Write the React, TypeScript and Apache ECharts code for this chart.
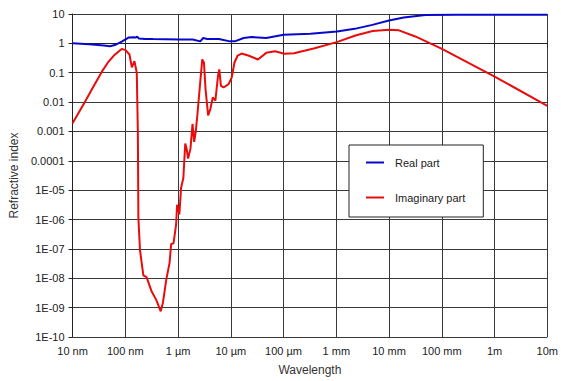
import React, { useEffect, useRef } from 'react';
import * as echarts from 'echarts';

const xTickLabels = ['10 nm', '100 nm', '1 µm', '10 µm', '100 µm', '1 mm', '10 mm', '100 mm', '1m', '10m'];
const yTickLabels = ['1E-10', '1E-09', '1E-08', '1E-07', '1E-06', '1E-05', '0.0001', '0.001', '0.01', '0.1', '1', '10'];

const seriesNames = ['Real part', 'Imaginary part'];

// wavelength in metres
const realWavelength = [
  1e-8, 2.07e-8, 3.94e-8, 5.1e-8, 6.6e-8, 8.55e-8, 1.15e-7, 1.45e-7, 1.6e-7, 1.68e-7, 1.8e-7, 2.39e-7,
  3.37e-7, 1.03e-6, 1.9e-6, 2.64e-6, 3.0e-6, 3.57e-6, 5.97e-6, 9.6e-6, 1.19e-5, 1.75e-5, 2.46e-5,
  4.69e-5, 1.01e-4, 3.23e-4, 1.03e-3, 2.23e-3, 4.82e-3, 1e-2, 1.9e-2, 4.89e-2, 0.2, 10,
];
const realValues = [
  1.0, 0.94, 0.84, 0.8, 0.9, 1.14, 1.58, 1.6, 1.58, 1.7, 1.47, 1.42,
  1.4, 1.36, 1.35, 1.17, 1.52, 1.41, 1.41, 1.17, 1.17, 1.52, 1.64,
  1.52, 1.96, 2.12, 2.53, 3.12, 4.27, 6.0, 7.6, 9.25, 9.4, 9.4,
];

const imagWavelength = [
  1e-8, 1.67e-8, 2.57e-8, 3.62e-8, 4.69e-8, 6.07e-8, 8.55e-8, 1.01e-7, 1.2e-7, 1.33e-7, 1.49e-7, 1.65e-7,
  1.73e-7, 1.77e-7, 1.9e-7, 2.2e-7, 2.53e-7, 3.13e-7, 3.88e-7, 4.69e-7, 5.17e-7, 5.97e-7, 6.9e-7, 7.4e-7,
  8.2e-7, 9.2e-7, 9.6e-7, 1.06e-6, 1.14e-6, 1.26e-6, 1.37e-6, 1.45e-6, 1.55e-6, 1.72e-6, 1.88e-6, 2.02e-6,
  2.16e-6, 2.32e-6, 2.5e-6, 2.88e-6, 3.1e-6, 3.32e-6, 3.72e-6, 4.11e-6, 4.56e-6, 5.1e-6, 5.72e-6, 6.05e-6,
  6.5e-6, 7.3e-6, 9.05e-6, 1.04e-5, 1.17e-5, 1.35e-5, 1.6e-5, 2.14e-5, 3.28e-5, 4.69e-5, 6.9e-5, 1.03e-4,
  1.58e-4, 3.72e-4, 1.02e-3, 2.39e-3, 4.89e-3, 1e-2, 1.54e-2, 3.14e-2, 9.84e-2, 0.984, 10,
];
const imagValues = [
  1.9e-3, 9.3e-3, 0.0377, 0.111, 0.224, 0.385, 0.647, 0.59, 0.417, 0.152, 0.248, 0.1,
  9.8e-4, 1.16e-6, 9e-8, 1.26e-8, 1.1e-8, 3.7e-9, 1.8e-9, 7.5e-10, 1.47e-9, 8.8e-9, 3.3e-8, 1.46e-7,
  1.54e-7, 6.9e-7, 3.2e-6, 1.5e-6, 1.19e-5, 2.58e-5, 3.9e-4, 2.64e-4, 1.2e-4, 2.6e-4, 1.8e-3, 4.4e-4,
  9.6e-4, 3.5e-3, 0.0164, 0.283, 0.219, 0.0276, 3.5e-3, 5.9e-3, 0.0145, 0.0111, 0.0775, 0.13,
  0.0356, 0.0315, 0.0407, 0.068, 0.219, 0.385, 0.45, 0.385, 0.283, 0.475, 0.538, 0.443,
  0.46, 0.673, 1.1, 1.89, 2.64, 2.89, 2.78, 1.72, 0.664, 0.0757, 7.4e-3,
];

const FONT = 'Liberation Sans, Arial, sans-serif';

export default function App() {
  const ref = useRef<HTMLDivElement>(null);
  useEffect(() => {
    document.body.style.margin = '0';
    const chart = echarts.init(ref.current!, null, { renderer: 'svg', width: 561, height: 381 });
    const gridColor = '#3a3a3a';
    // y axis: decades (log10 of the refractive index) on a value axis, one tick per decade
    const toDecade = (v: number) => Math.log10(v);
    chart.setOption({
      animation: false,
      backgroundColor: '#fff',
      textStyle: { fontFamily: FONT },
      grid: { left: 68, top: 14, width: 483, height: 327, containLabel: false },
      legend: {
        orient: 'vertical',
        left: 349,
        top: 145,
        padding: [11, 18, 13, 17],
        itemGap: 22,
        itemWidth: 18,
        itemHeight: 2,
        icon: 'rect',
        backgroundColor: '#fff',
        borderColor: '#222',
        borderWidth: 1,
        borderRadius: 0,
        selectedMode: false,
        textStyle: { fontFamily: FONT, fontSize: 11, color: '#222', lineHeight: 13, padding: [0, 0, 0, 6] },
        data: seriesNames,
      },
      xAxis: {
        type: 'log',
        logBase: 10,
        min: 1e-8,
        max: 10,
        splitNumber: 9,
        name: 'Wavelength',
        nameLocation: 'middle',
        nameGap: 27,
        nameTextStyle: { fontFamily: FONT, fontSize: 12, color: '#333' },
        axisLine: { show: true, lineStyle: { color: '#222', width: 1 } },
        axisTick: { show: true, length: 4, lineStyle: { color: '#222' } },
        axisLabel: {
          fontFamily: FONT,
          fontSize: 11,
          color: '#222',
          margin: 8,
          showMinLabel: true,
          showMaxLabel: true,
          formatter: (v: number) => xTickLabels[Math.round(Math.log10(v)) + 8] ?? '',
        },
        splitLine: { show: true, lineStyle: { color: gridColor, width: 1 } },
      },
      yAxis: {
        type: 'value',
        min: -10,
        max: 1,
        interval: 1,
        name: 'Refractive index',
        nameLocation: 'middle',
        nameGap: 46,
        nameTextStyle: { fontFamily: FONT, fontSize: 12, color: '#333' },
        axisLine: { show: true, lineStyle: { color: '#222', width: 1 } },
        axisTick: { show: true, length: 4, lineStyle: { color: '#222' } },
        axisLabel: {
          fontFamily: FONT,
          fontSize: 11,
          color: '#222',
          margin: 8,
          formatter: (v: number) => yTickLabels[Math.round(v) + 10] ?? '',
        },
        splitLine: { show: true, lineStyle: { color: gridColor, width: 1 } },
      },
      series: [
        {
          name: seriesNames[0],
          type: 'line',
          showSymbol: false,
          color: '#0808cc',
          lineStyle: { color: '#0808cc', width: 2 },
          data: realWavelength.map((w, i) => [w, toDecade(realValues[i])]),
          z: 3,
        },
        {
          name: seriesNames[1],
          type: 'line',
          showSymbol: false,
          color: '#e80c0c',
          lineStyle: { color: '#e80c0c', width: 2 },
          data: imagWavelength.map((w, i) => [w, toDecade(imagValues[i])]),
          z: 2,
        },
      ],
    });
    return () => chart.dispose();
  }, []);
  return <div ref={ref} style={{ position: 'fixed', left: 0, top: 0, width: 561, height: 381 }} />;
}
